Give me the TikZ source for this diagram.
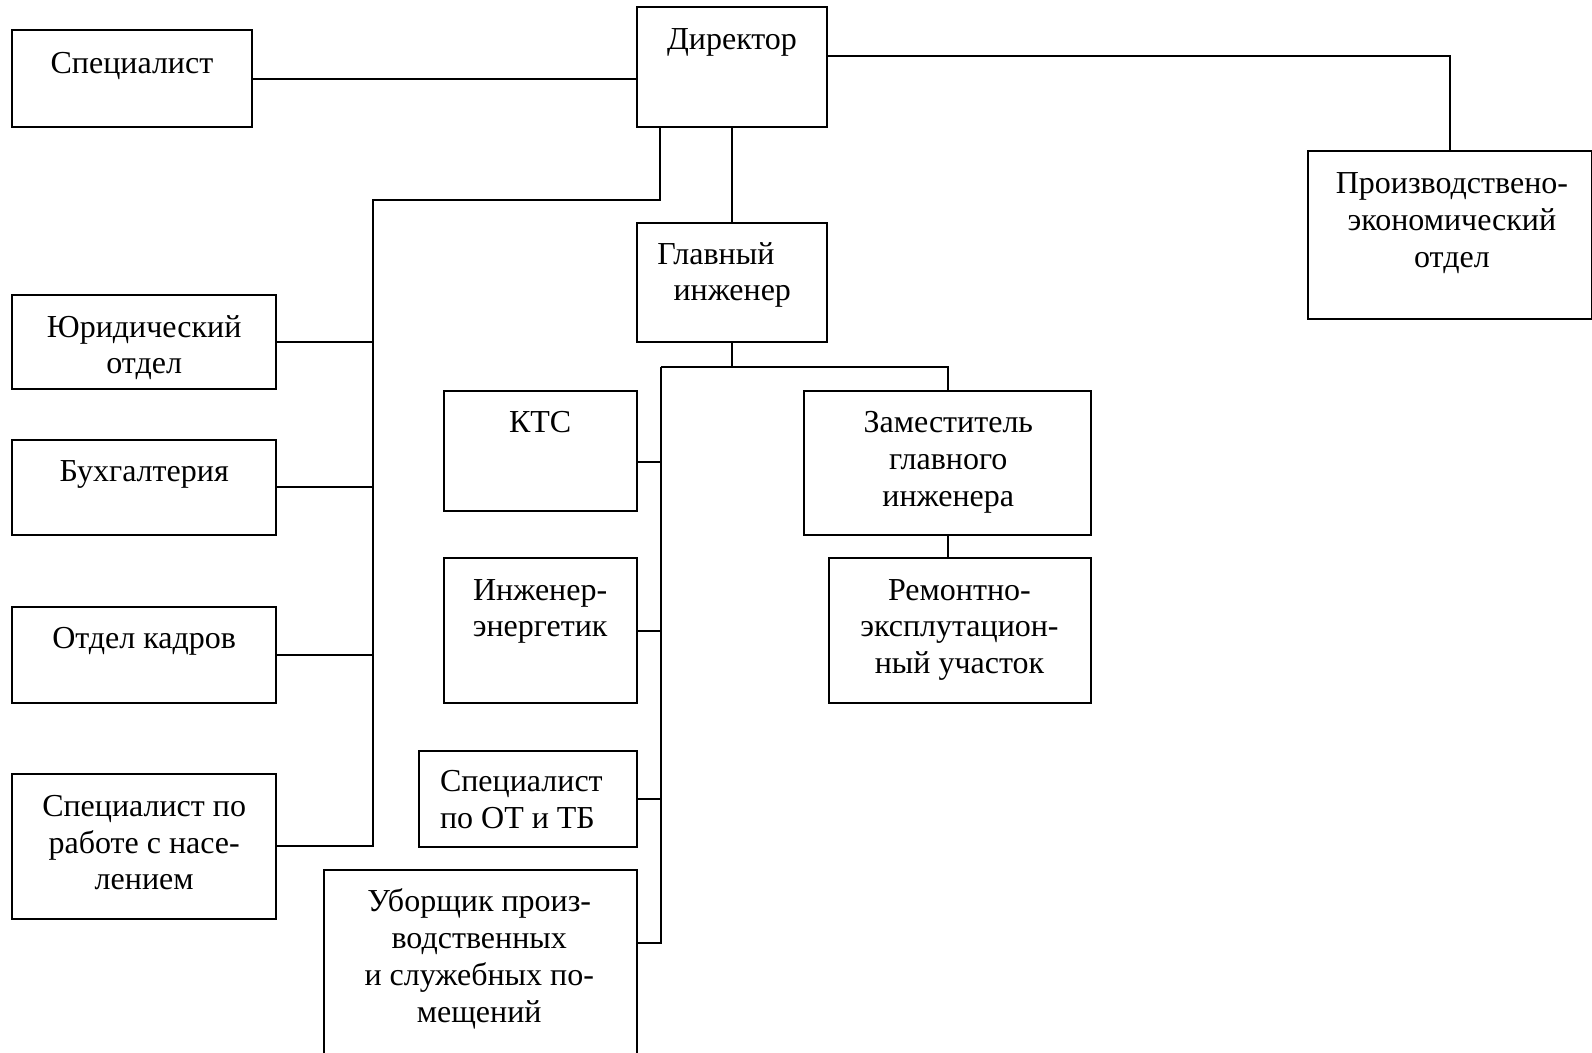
\documentclass[tikz,border=0pt]{standalone}
\usepackage{fontspec}
\setmainfont{Liberation Serif}
\newcommand\fs{\rule{0pt}{12pt}}
\newcommand\mkbox[5]{%
 \pgfmathsetmacro\bw{(#4-#2)*0.50765}%
 \pgfmathsetmacro\bh{(#5-#3)*0.50765}%
 \node[box, minimum width=\bw pt, minimum height=\bh pt] (#1) at ({(#2+#4)/2},{(#3+#5)/2}) {};}
\begin{document}
\begin{tikzpicture}[x=0.50765pt,y=-0.50765pt,
 box/.style={draw, line width=1pt, inner sep=0pt, rectangle},
 lbl/.style={inner sep=0pt, anchor=north, align=center, font=\fontsize{16}{18.4}\selectfont},
 lbll/.style={lbl, anchor=north west, align=left},
 con/.style={line width=1pt}]
\useasboundingbox (0,0) rectangle (1568,1037);
\mkbox{spec}{12}{30}{248}{125}
\mkbox{dir}{627}{7}{815}{125}
\mkbox{prod}{1288}{149}{1568}{314}
\mkbox{gi}{627}{220}{815}{337}
\mkbox{jur}{12}{291}{272}{383}
\mkbox{buh}{12}{433}{272}{527}
\mkbox{kad}{12}{598}{272}{692}
\mkbox{hr}{12}{762}{272}{905}
\mkbox{kts}{437}{385}{627}{503}
\mkbox{ie}{437}{550}{627}{692}
\mkbox{ot}{413}{740}{627}{834}
\mkbox{ub}{319}{857}{627}{1045}
\mkbox{zam}{792}{385}{1075}{527}
\mkbox{rem}{816}{550}{1075}{692}
\node[lbl] (spect) at (130,48) {\fs Специалист};
\node[lbl] (dirt) at (721,25) {\fs Директор};
\node[lbl] (prodt) at (1430,167) {\fs Производствено-\\экономический\\отдел};
\node[lbll] (git) at (647,236) {\fs Главный\\\hspace{8.1pt}инженер};
\node[lbl] (jurt) at (142,308) {\fs Юридический\\отдел};
\node[lbl] (buht) at (142,450) {\fs Бухгалтерия};
\node[lbl] (kadt) at (142,615) {\fs Отдел кадров};
\node[lbl] (hrt) at (142,780) {\fs Специалист по\\работе с насе-\\лением};
\node[lbl] (ktst) at (532,402) {\fs КТС};
\node[lbl] (iet) at (532,567) {\fs Инженер-\\энергетик};
\node[lbll] (ott) at (433,756) {\fs Специалист\\по ОТ и ТБ};
\node[lbl] (ubt) at (472,874) {\fs Уборщик произ-\\водственных\\и служебных по-\\мещений};
\node[lbl] (zamt) at (934,402) {\fs Заместитель\\главного\\инженера};
\node[lbl] (remt) at (945,567) {\fs Ремонтно-\\эксплутацион-\\ный участок};
\draw[con] (spec.east) -- (spec.east -| dir.west);
\coordinate (dtop) at (0,55);
\draw[con] (dir.east |- dtop) -| (prod.north);
\coordinate (lb) at (367,197);
\draw[con] ([xshift=12.18pt]dir.south west) |- (lb) |- (hr.east);
\foreach \n in {jur,buh,kad} \draw[con] (\n.east) -- (\n.east -| lb);
\draw[con] (dir.south) -- (gi.north);
\coordinate (rb) at (651,361);
\draw[con] (gi.south) -- (gi.south |- rb);
\draw[con] (rb) -| (zam.north);
\draw[con] (rb) |- ([yshift=-37.06pt]ub.north east);
\draw[con] ([yshift=-36.04pt]kts.north east) -- ([yshift=-36.04pt]kts.north east -| rb);
\draw[con] (ie.east) -- (ie.east -| rb);
\draw[con] (ot.east) -- (ot.east -| rb);
\draw[con] (zam.south) -- (zam.south |- rem.north);
\end{tikzpicture}
\end{document}
